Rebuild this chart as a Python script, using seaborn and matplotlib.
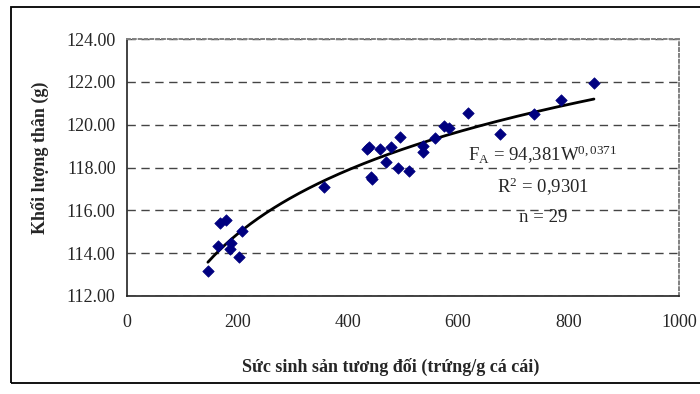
import numpy as np
import pandas as pd
import matplotlib
matplotlib.use("Agg")
import matplotlib.pyplot as plt
import seaborn as sns
from matplotlib.patches import Rectangle

# Data
fecundity = [147, 165, 169, 179, 188, 187, 203.6, 208.5, 358, 435, 439, 458, 479, 494,
             470, 492, 512, 442, 444, 536, 537, 559, 574, 584, 618, 676, 737, 787, 846]
body_mass = [113.18, 114.35, 115.40, 115.55, 114.46, 114.20, 113.84, 115.04, 117.10,
             118.85, 118.97, 118.86, 118.94, 119.44, 118.26, 117.99, 117.84, 117.54,
             117.46, 119.02, 118.71, 119.39, 119.94, 119.86, 120.53, 119.56, 120.48,
             121.15, 121.96]
# power trendline coefficients shown on the chart: F = a * W^b
coef_a = 94.381
coef_b = 0.0371
x_ticks = [0, 200, 400, 600, 800, 1000]
y_ticks = [112, 114, 116, 118, 120, 122, 124]

sns.set_theme(style="white")
plt.rcParams['font.family'] = ['Liberation Serif', 'DejaVu Serif']
plt.rcParams['mathtext.fontset'] = 'custom'
plt.rcParams['mathtext.rm'] = 'Liberation Serif'
plt.rcParams['mathtext.it'] = 'Liberation Serif:italic'
plt.rcParams['mathtext.bf'] = 'Liberation Serif:bold'

fig = plt.figure(figsize=(7, 3.94), dpi=100)
ax = fig.add_axes([126.7 / 700, 1 - 296 / 394, (679 - 126.7) / 700, (296 - 39) / 394])

df = pd.DataFrame({"x": fecundity, "y": body_mass})
wline = np.linspace(min(fecundity), max(fecundity), 200)
fit = pd.DataFrame({"x": wline, "y": coef_a * wline ** coef_b})

sns.lineplot(data=fit, x="x", y="y", ax=ax, color="black", lw=2.0, zorder=3)
sns.scatterplot(data=df, x="x", y="y", ax=ax, marker="D", s=34, color="#000080",
                edgecolor="#000080", linewidth=0.5, zorder=4)

ax.set_xlim(0, 1000)
ax.set_ylim(112, 124)
ax.set_xticks(x_ticks)
ax.set_yticks(y_ticks)
ax.set_xticklabels([str(t) for t in x_ticks], fontsize=13)
ax.set_yticklabels([f"{t:.2f}" for t in y_ticks], fontsize=13)
ax.tick_params(axis="both", direction="out", length=5, width=0.9, color="black", pad=3)
ax.tick_params(axis="x", pad=8)

ax.grid(axis="y", color="#444444", linestyle=(0, (6, 4)), lw=1.0)
ax.grid(axis="x", visible=False)

for side in ["top", "right"]:
    ax.spines[side].set_color("#808080")
    ax.spines[side].set_linestyle((0, (1.5, 1.5)))
    ax.spines[side].set_linewidth(1.4)
for side in ["left", "bottom"]:
    ax.spines[side].set_color("#222222")
    ax.spines[side].set_linestyle((0, (2, 1)))
    ax.spines[side].set_linewidth(1.2)

ax.set_xlabel("Sức sinh sản tương đối (trứng/g cá cái)", fontsize=13, fontweight="bold")
ax.set_ylabel("Khối lượng thân (g)", fontsize=13, fontweight="bold")
ax.xaxis.set_label_coords((391 - 126.7) / (679 - 126.7), -(367 - 296) / (296 - 39))
ax.yaxis.set_label_coords(-(126.7 - 40) / (679 - 126.7), (296 - 158) / (296 - 39))
ax.xaxis.label.set_va("center")
ax.yaxis.label.set_va("center")

def px(xp, yp):
    return ((xp - 126.7) / (679 - 126.7), (296 - yp) / (296 - 39))

ax.text(*px(543, 155), r"F$_{\mathrm{A}}$ = 94,381W$^{\mathrm{0,0371}}$", transform=ax.transAxes,
        ha="center", va="center", fontsize=13.5)
ax.text(*px(543, 187), r"R$^{\mathrm{2}}$ = 0,9301", transform=ax.transAxes,
        ha="center", va="center", fontsize=13.5)
ax.text(*px(543, 217), "n = 29", transform=ax.transAxes,
        ha="center", va="center", fontsize=13.5)

fig.patches.append(Rectangle((11 / 700, 1 - 383 / 394), 1.2, (383 - 7) / 394,
                             transform=fig.transFigure, fill=False,
                             edgecolor="black", lw=1.3))

fig.savefig("out.png", dpi=100)
